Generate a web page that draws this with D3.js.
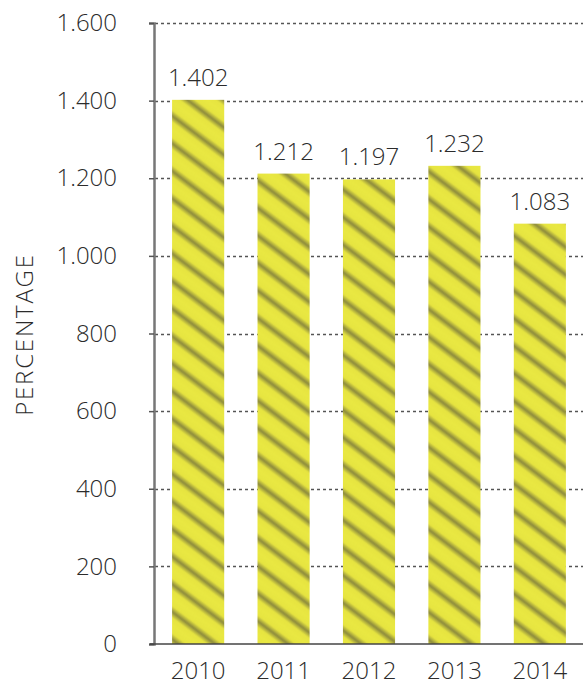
<!DOCTYPE html>
<html lang="en">
<head>
    <meta charset="UTF-8">
    <title>Percentage by year</title>
    <script src="https://d3js.org/d3.v7.min.js"></script>
    <style>
        body { margin: 0; background: #fff; }
        text { font-family: "Open Sans", "DejaVu Sans", sans-serif; font-weight: 300; fill: #2b2b2b; }
    </style>
</head>
<body>
<svg id="main" width="583" height="687"></svg>
<script>
    // data
    const years = ['2010', '2011', '2012', '2013', '2014'];
    const values = [1402, 1212, 1197, 1232, 1083];
    const yTicks = [0, 200, 400, 600, 800, 1000, 1200, 1400, 1600];

    let svg = d3.select('svg#main');
    let plot = {left: 155, right: 583, top: 23, bottom: 644};

    // numbers use a dot as thousands separator
    const fmt = d3.formatLocale({decimal: ',', thousands: '.', grouping: [3], currency: ['', '']}).format(',d');

    let xScale = d3.scaleBand()
        .domain(years)
        .range([plot.left, plot.right])
        .paddingInner(0.39)
        .paddingOuter(0.2);
    let yScale = d3.scaleLinear()
        .domain([0, 1600])
        .range([plot.bottom, plot.top]);

    // striped fill
    let defs = svg.append('defs');
    let grad = defs.append('linearGradient')
        .attr('id', 'stripeGrad')
        .attr('x1', 0).attr('y1', 0).attr('x2', 0).attr('y2', 1);
    [[0, '#e9e842'], [0.28, '#e6e440'], [0.5, '#8c8a3c'], [0.72, '#e6e440'], [1, '#e9e842']]
        .forEach(function (s) {
            grad.append('stop').attr('offset', s[0]).attr('stop-color', s[1]);
        });
    defs.append('pattern')
        .attr('id', 'stripes')
        .attr('patternUnits', 'userSpaceOnUse')
        .attr('width', 40)
        .attr('height', 22)
        .attr('patternTransform', 'rotate(37)')
        .append('rect')
        .attr('width', 40)
        .attr('height', 22)
        .attr('fill', 'url(#stripeGrad)');

    // grid lines
    svg.append('g')
        .selectAll('line')
        .data(yTicks.filter(function (d) { return d > 0; }))
        .join('line')
        .attr('x1', plot.left)
        .attr('x2', plot.right)
        .attr('y1', function (d) { return Math.round(yScale(d)) + 0.5; })
        .attr('y2', function (d) { return Math.round(yScale(d)) + 0.5; })
        .attr('stroke', '#555')
        .attr('stroke-width', 1.3)
        .attr('stroke-dasharray', '3,3');

    // bars
    svg.append('g')
        .selectAll('rect')
        .data(values)
        .join('rect')
        .attr('x', function (d, i) { return xScale(years[i]); })
        .attr('width', xScale.bandwidth())
        .attr('y', function (d) { return yScale(d); })
        .attr('height', function (d) { return yScale(0) - yScale(d); })
        .attr('fill', 'url(#stripes)');

    // value labels
    svg.append('g')
        .selectAll('text')
        .data(values)
        .join('text')
        .attr('x', function (d, i) { return xScale(years[i]) + xScale.bandwidth() / 2; })
        .attr('y', function (d) { return yScale(d) - 14; })
        .attr('text-anchor', 'middle')
        .attr('font-size', 24)
        .text(function (d) { return fmt(d); });

    // y axis
    let yAxis = svg.append('g')
        .attr('transform', 'translate(' + (plot.left - 1) + ',0)')
        .call(d3.axisLeft(yScale).tickValues(yTicks).tickFormat(fmt).tickSize(5).tickPadding(32));
    yAxis.select('.domain').attr('stroke', '#777').attr('stroke-width', 2.5);
    yAxis.selectAll('.tick line').attr('stroke', '#555').attr('stroke-width', 1.5);
    yAxis.selectAll('.tick text').attr('font-size', 24).attr('fill', '#2b2b2b')
        .attr('font-family', '"Open Sans", sans-serif');

    // x axis
    let xAxis = svg.append('g')
        .attr('transform', 'translate(0,' + plot.bottom + ')')
        .call(d3.axisBottom(xScale).tickSize(0).tickPadding(18));
    xAxis.select('.domain').attr('stroke', '#444').attr('stroke-width', 1.5)
        .attr('d', 'M' + (plot.left - 5) + ',0H' + plot.right);
    xAxis.selectAll('.tick text').attr('font-size', 24).attr('fill', '#2b2b2b')
        .attr('font-family', '"Open Sans", sans-serif');

    // axis title
    svg.append('text')
        .attr('transform', 'translate(33,' + ((plot.top + plot.bottom) / 2 + 1) + ') rotate(-90)')
        .attr('text-anchor', 'middle')
        .attr('font-size', 24)
        .attr('letter-spacing', 1.8)
        .text('PERCENTAGE');
</script>
</body>
</html>
